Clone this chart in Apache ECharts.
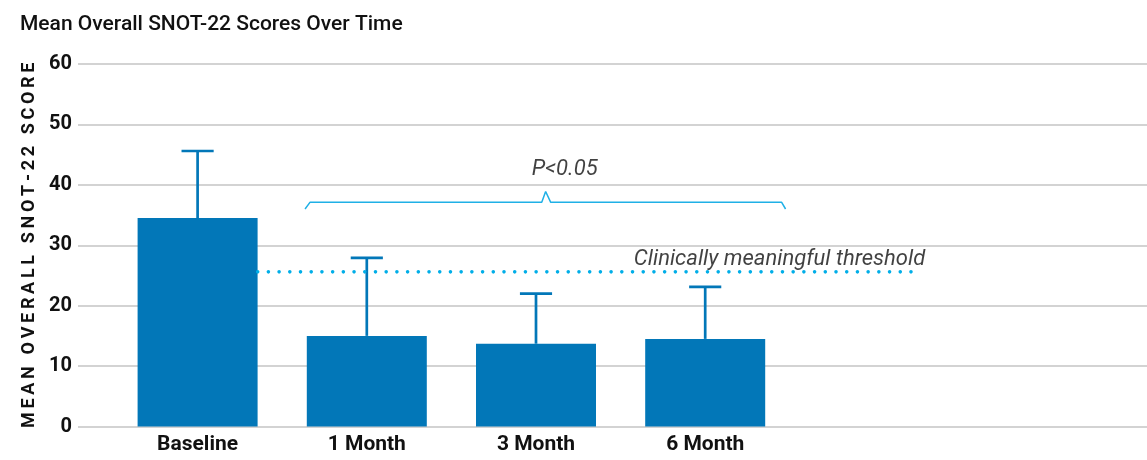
<!DOCTYPE html>
<html>
<head>
<meta charset="utf-8">
<script src="https://cdn.jsdelivr.net/npm/echarts@6/dist/echarts.min.js"></script>
<style>
html,body{margin:0;padding:0;background:#fff;}
#chart{width:1147px;height:460px;}
</style>
</head>
<body>
<div id="chart"></div>
<script>
// ---- data ----
const titleText = 'Mean Overall SNOT-22 Scores Over Time';
const yAxisTitle = 'MEAN OVERALL SNOT-22 SCORE';
const categories = ['Baseline', '1 Month', '3 Month', '6 Month'];
const meanScores = [34.5, 15.0, 13.7, 14.5];
const errorUpper = [45.6, 27.9, 22.0, 23.1];
const yMin = 0, yMax = 60, yStep = 10;
const thresholdValue = 25.6;
const thresholdLabel = 'Clinically meaningful threshold';
const pValueLabel = 'P<0.05';
// bracket over 1 Month .. 6 Month (x in category-index units, y in score units)
const bracketX = [0.635, 0.664, 2.034, 2.057, 2.087, 3.452, 3.475];
const bracketY = [36.0, 37.1, 37.1, 38.9, 37.1, 37.1, 36.0];
const thresholdSpan = [0.355, 4.25];

const FONT = 'Roboto, "Noto Sans", sans-serif';
const BAR = '#0277b8';
const LIGHT = '#1fb0e6';
const spacedTitle = yAxisTitle.split('').join('\u2009');

const chart = echarts.init(document.getElementById('chart'), null, {renderer: 'canvas'});
const gridTop = 64, gridBottom = 33.5;

const option = {
  animation: false,
  backgroundColor: '#fff',
  title: {
    text: titleText, left: 15, top: 9,
    textStyle: {fontFamily: FONT, fontWeight: 500, fontSize: 21, color: '#111'}
  },
  grid: [
    {left: 78, right: 0, top: gridTop, bottom: gridBottom},
    {left: 113, right: 18.8, top: gridTop, bottom: gridBottom}
  ],
  xAxis: [
    {gridIndex: 0, type: 'value', min: 0, max: 1, show: false},
    {gridIndex: 1, type: 'category', data: categories.concat(['', '']),
     axisLine: {show: false}, axisTick: {show: false},
     axisLabel: {fontFamily: FONT, fontWeight: 'bold', fontSize: 21, color: '#111', margin: 8}},
    {gridIndex: 1, type: 'value', min: -0.5, max: 5.5, show: false}
  ],
  yAxis: [
    {gridIndex: 0, type: 'value', min: yMin, max: yMax, interval: yStep,
     axisLine: {show: false}, axisTick: {show: false},
     axisLabel: {fontFamily: FONT, fontWeight: 'bold', fontSize: 20, color: '#111', margin: 6},
     splitLine: {lineStyle: {color: '#c4c4c4', width: 1.5}},
     name: spacedTitle, nameLocation: 'middle', nameRotate: 90, nameGap: 40,
     nameTextStyle: {fontFamily: FONT, fontWeight: 'bold', fontSize: 18, color: '#111'}},
    {gridIndex: 1, type: 'value', min: yMin, max: yMax, interval: yStep, show: false}
  ],
  series: [
    {type: 'bar', xAxisIndex: 1, yAxisIndex: 1, data: meanScores, barWidth: 120,
     itemStyle: {color: BAR}},
    {type: 'custom', xAxisIndex: 1, yAxisIndex: 1,
     data: categories.map((c, i) => [i, meanScores[i], errorUpper[i]]),
     renderItem: function (params, api) {
       const i = api.value(0);
       const p0 = api.coord([i, api.value(1)]);
       const p1 = api.coord([i, api.value(2)]);
       const capW = api.size([1, 0])[0] * 0.19;
       const st = {stroke: BAR, lineWidth: 2.7};
       return {type: 'group', children: [
         {type: 'line', shape: {x1: p0[0], y1: p0[1], x2: p1[0], y2: p1[1]}, style: st},
         {type: 'line', shape: {x1: p1[0] - capW / 2, y1: p1[1], x2: p1[0] + capW / 2, y2: p1[1]}, style: st}
       ]};
     }, z: 3},
    {type: 'line', xAxisIndex: 2, yAxisIndex: 1, symbol: 'none', silent: true,
     data: thresholdSpan.map(x => [x, thresholdValue]),
     lineStyle: {color: '#00aee8', width: 3.6, type: [0.01, 10.7], cap: 'round'}, z: 4},
    {type: 'line', xAxisIndex: 2, yAxisIndex: 1, symbol: 'none', silent: true,
     data: bracketX.map((x, i) => [x, bracketY[i]]),
     lineStyle: {color: LIGHT, width: 1.5}, z: 4},
    {type: 'scatter', xAxisIndex: 2, yAxisIndex: 1, symbolSize: 0, silent: true,
     data: [
       {value: [2.17, 40.7], label: {formatter: pValueLabel, fontSize: 22}},
       {value: [thresholdSpan[1] + 0.05, thresholdValue + 0.3], label: {formatter: thresholdLabel, align: 'right', fontSize: 22}}
     ],
     label: {show: true, position: [0, 0], align: 'center', verticalAlign: 'bottom',
             fontFamily: FONT, fontStyle: 'italic', color: '#111'}, z: 5}
  ]
};
chart.setOption(option);
</script>
</body>
</html>
